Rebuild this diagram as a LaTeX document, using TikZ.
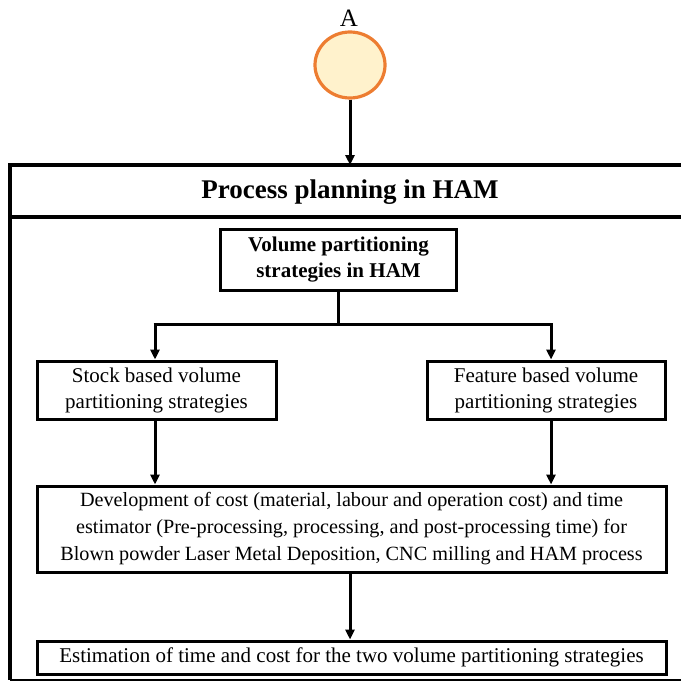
\documentclass[tikz,border=0pt]{standalone}
\usepackage{fontspec}
\setmainfont{Liberation Serif}
\usetikzlibrary{arrows.meta,shapes.geometric}
\definecolor{circedge}{HTML}{ED7D31}
\definecolor{circfill}{HTML}{FFF2CC}
\begin{document}
\begin{tikzpicture}[x=1pt,y=-1pt,
  box/.style={draw, line width=3pt, align=center, inner sep=0pt, font=\fontsize{21}{26}\selectfont},
  arr/.style={-{Triangle[length=10pt,width=9pt]}, line width=3pt},
  ln/.style={line width=3pt}]
\useasboundingbox (0,0) rectangle (681,682);
% start connector
\node[font=\fontsize{25}{28}\selectfont] (lblA) at (349,18) {A};
\node[ellipse, draw=circedge, fill=circfill, line width=3.2pt, minimum width=70pt, minimum height=66pt, inner sep=0pt] (A) at (350,65) {};
% frame
\coordinate (ftop) at (350,165);
\draw[line width=3.2pt] (681,165) -- (10,165) -- (10,680);
\draw[line width=2pt] (10,680) -- (681,680);
\draw[line width=3.2pt] (10,217) -- (681,217);
\node[font=\bfseries\fontsize{27}{30}\selectfont] (title) at (350,192) {Process planning in HAM};
\draw[arr] (A.south) -- (ftop);
% boxes
\node[box, minimum width=236pt, minimum height=61pt, font=\bfseries\fontsize{21}{26}\selectfont] (vol) at (338.5,259.5) {Volume partitioning\\strategies in HAM};
\node[box, minimum width=239pt, minimum height=58pt] (stock) at (156.5,390) {Stock based volume\\partitioning strategies};
\node[box, minimum width=238pt, minimum height=58pt] (feat) at (546,390) {Feature based volume\\partitioning strategies};
\node[box, minimum width=629pt, minimum height=86pt, font=\fontsize{20.2}{27}\selectfont] (dev) at (351.5,529) {Development of cost (material, labour and operation cost) and time\\estimator (Pre-processing, processing, and post-processing time) for\\Blown powder Laser Metal Deposition, CNC milling and HAM process};
\node[box, minimum width=629pt, minimum height=33pt] (est) at (351.5,657.5) {Estimation of time and cost for the two volume partitioning strategies};
% connectors
\coordinate (split) at (338.5,324);
\coordinate (sl) at (155,324);
\coordinate (sr) at (551,324);
\draw[ln] (vol.south) -- (split);
\draw[ln] ([xshift=-1.5pt]sl) -- ([xshift=1.5pt]sr);
\draw[arr] (sl) -- (sl |- stock.north);
\draw[arr] (sr) -- (sr |- feat.north);
\draw[arr] (stock.south -| sl) -- (sl |- dev.north);
\draw[arr] (feat.south -| sr) -- (sr |- dev.north);
\draw[arr] (dev.south -| ftop) -- (ftop |- est.north);
\end{tikzpicture}
\end{document}
